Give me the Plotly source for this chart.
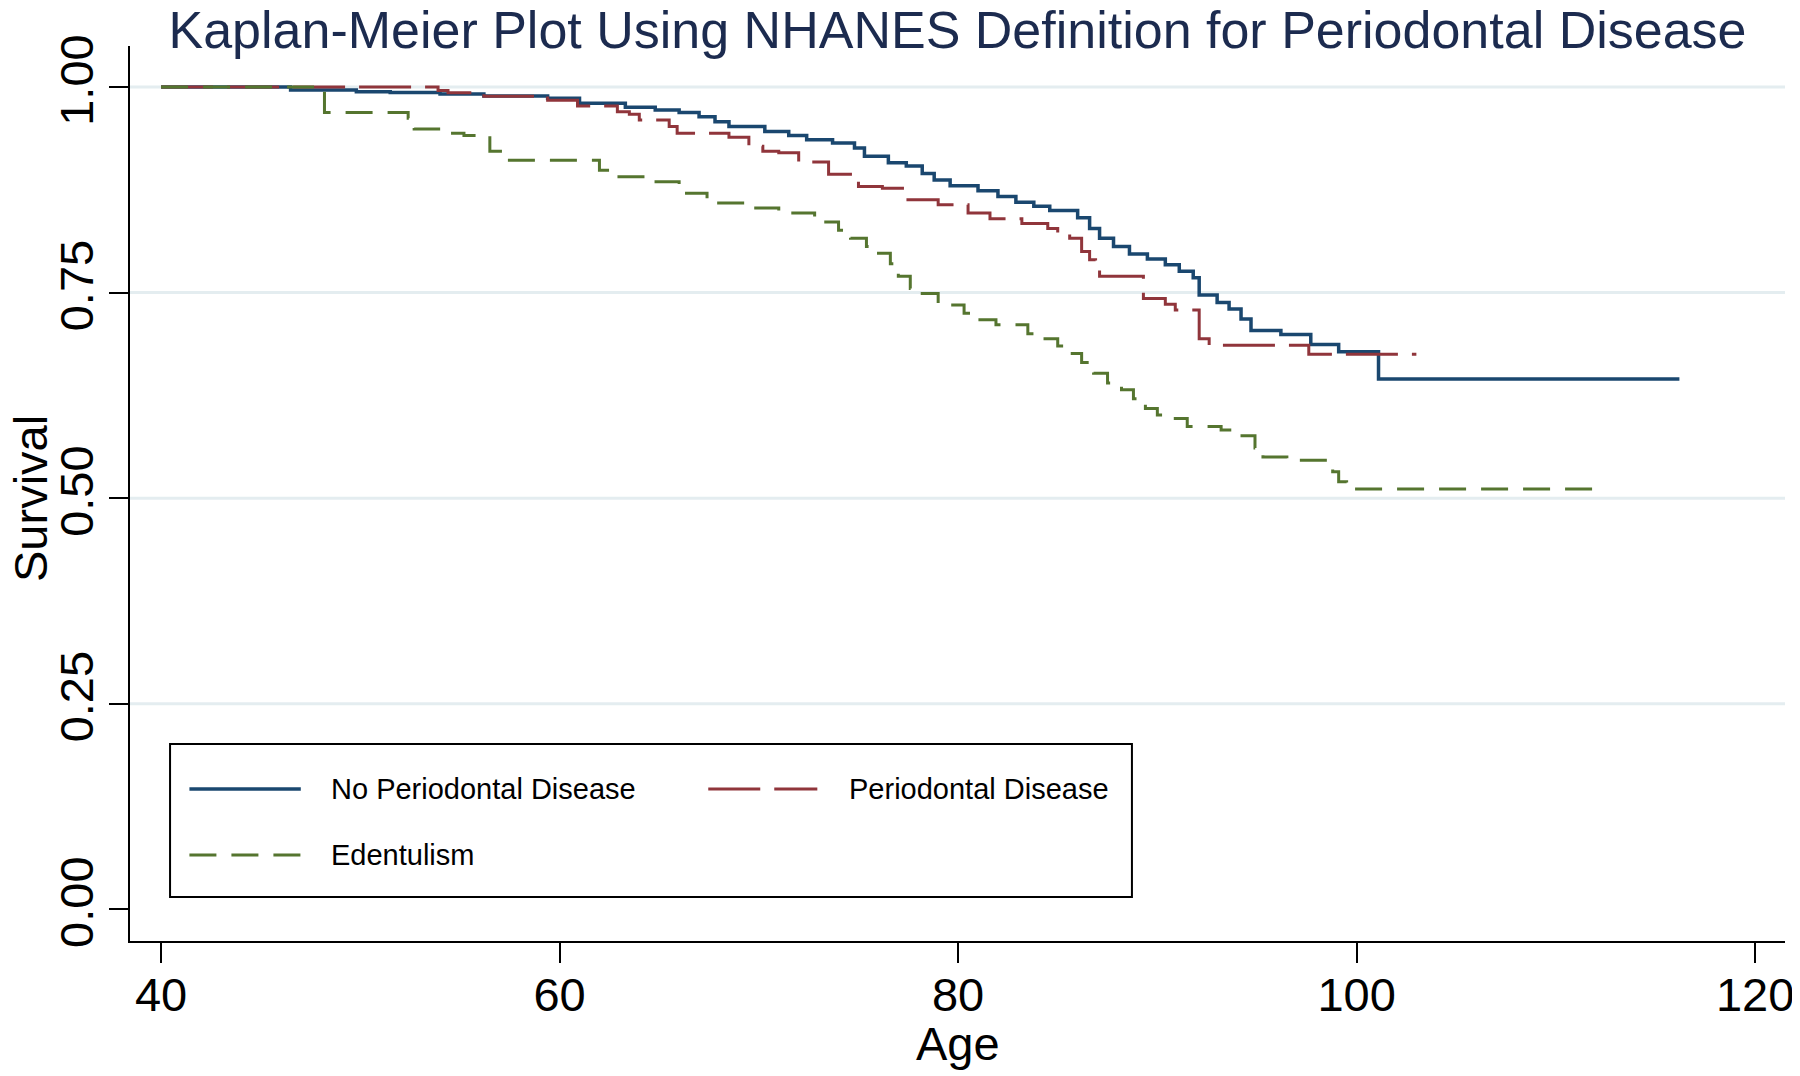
import plotly.graph_objects as go

# ---------------- data ----------------
age_no_pd = [40, 46.5, 49.8, 51.5, 54.0, 56.2, 59.4, 61.0, 63.3, 64.8, 66.0, 67.0,
             67.8, 68.5, 70.3, 71.5, 72.4, 73.7, 74.8, 75.3, 76.5, 77.4, 78.2, 78.8,
             79.6, 81.0, 82.0, 82.9, 83.8, 84.6, 86.0, 86.6, 87.1, 87.8, 88.6, 89.5,
             90.4, 91.1, 91.8, 92.1, 93.0, 93.6, 94.2, 94.7, 96.2, 97.7, 99.1, 101.1,
             116.2]
surv_no_pd = [1.0, 0.9966, 0.9945, 0.9933, 0.9917, 0.9893, 0.9864, 0.9804, 0.9755, 0.972,
              0.969, 0.964, 0.958, 0.952, 0.946, 0.941, 0.936, 0.932, 0.926, 0.916,
              0.908, 0.904, 0.895, 0.887, 0.880, 0.874, 0.867, 0.860, 0.855, 0.850,
              0.841, 0.828, 0.816, 0.806, 0.797, 0.791, 0.784, 0.776, 0.768, 0.747,
              0.738, 0.730, 0.718, 0.704, 0.699, 0.687, 0.678, 0.645, 0.645]

age_pd = [40, 53.9, 54.4, 56.2, 59.4, 60.9, 62.9, 63.5, 64.0, 65.5, 65.9, 68.5,
          69.5, 70.2, 71.0, 72.0, 73.5, 75.0, 76.2, 77.3, 79.0, 80.5, 81.6, 83.2,
          84.5, 85.0, 85.6, 86.2, 86.6, 86.9, 87.1, 89.3, 90.4, 90.9, 92.1, 92.6,
          97.6, 103.0]
surv_pd = [1.0, 0.996, 0.993, 0.989, 0.984, 0.977, 0.970, 0.967, 0.960, 0.952,
           0.944, 0.939, 0.928, 0.922, 0.920, 0.909, 0.894, 0.879, 0.877, 0.863,
           0.857, 0.847, 0.840, 0.834, 0.828, 0.822, 0.816, 0.800, 0.790, 0.778,
           0.770, 0.743, 0.736, 0.729, 0.694, 0.686, 0.675, 0.675]

age_edent = [40, 48.2, 52.4, 52.7, 54.5, 55.2, 56.5, 57.3, 62.0, 62.5, 64.3, 66.0,
             67.4, 69.4, 71.0, 72.8, 74.0, 74.6, 75.4, 75.9, 76.6, 77.0, 77.6, 78.1,
             79.0, 80.3, 80.7, 81.9, 83.5, 84.0, 85.0, 85.5, 86.2, 86.8, 87.5, 88.2,
             88.8, 89.4, 90.0, 90.9, 91.5, 93.2, 93.9, 94.9, 95.3, 96.5, 98.8, 99.1,
             99.5, 112.0]
surv_edent = [1.0, 0.969, 0.962, 0.949, 0.944, 0.941, 0.922, 0.911, 0.899, 0.891,
              0.885, 0.871, 0.859, 0.853, 0.847, 0.836, 0.826, 0.816, 0.806, 0.798,
              0.785, 0.770, 0.755, 0.749, 0.735, 0.725, 0.717, 0.711, 0.700, 0.694,
              0.685, 0.676, 0.665, 0.652, 0.640, 0.632, 0.621, 0.609, 0.601, 0.597,
              0.587, 0.583, 0.576, 0.561, 0.550, 0.546, 0.532, 0.520, 0.511, 0.511]

series_names = ["No Periodontal Disease", "Periodontal Disease", "Edentulism"]
series_colors = ["#1a476f", "#90353b", "#55752f"]
series_dashes = ["solid", "52px,14px", "27px,15px"]
series_widths = [3.5, 3, 3]

x_ticks = [40, 60, 80, 100, 120]
y_ticks = [0.0, 0.25, 0.5, 0.75, 1.0]
y_grid = [0.25, 0.5, 0.75, 1.0]

title_text = "Kaplan-Meier Plot Using NHANES Definition for Periodontal Disease"
x_title = "Age"
y_title = "Survival"

FONT = "Arial, Liberation Sans, sans-serif"

# The page body has an 8px default margin, so the figure is sized/offset for it.
FIG_W, FIG_H = 1792, 1068

# ---------------- figure ----------------
fig = go.Figure()
series = [(age_no_pd, surv_no_pd), (age_pd, surv_pd), (age_edent, surv_edent)]
for (xs, ys), name, col, dash, w in zip(series, series_names, series_colors,
                                         series_dashes, series_widths):
    fig.add_trace(go.Scatter(
        x=xs, y=ys, mode="lines", name=name, line_shape="hv",
        line=dict(color=col, width=w, dash=dash), showlegend=False))

# grid lines (none at the axis minimum, as in the reference)
for g in y_grid:
    fig.add_shape(type="line", xref="paper", yref="y", x0=0, x1=1, y0=g, y1=g,
                  line=dict(color="#e4edf0", width=3), layer="below")

# ---------------- legend (drawn in paper coordinates) ----------------
fig.add_shape(type="rect", xref="paper", yref="paper",
              x0=0.0242, x1=0.6054, y0=0.0492, y1=0.2201,
              line=dict(color="black", width=2), fillcolor="white", layer="above")
legend_slots = [  # (key x0, key x1, text x, row y)
    (0.0359, 0.1032, 0.1205, 0.1698),
    (0.3494, 0.4153, 0.4332, 0.1698),
    (0.0359, 0.1032, 0.1205, 0.0961),
]
for (kx0, kx1, tx, ry), name, col, dash, w in zip(legend_slots, series_names,
                                                    series_colors, series_dashes,
                                                    series_widths):
    fig.add_shape(type="line", xref="paper", yref="paper", x0=kx0, x1=kx1, y0=ry, y1=ry,
                  line=dict(color=col, width=w, dash=dash), layer="above")
    fig.add_annotation(xref="paper", yref="paper", x=tx, y=ry, text=name,
                       showarrow=False, xanchor="left", yanchor="middle",
                       font=dict(family=FONT, size=29, color="black"))

# ---------------- axis titles ----------------
fig.add_annotation(xref="paper", yref="paper", x=0.5, y=-0.1150, text=x_title,
                   showarrow=False, xanchor="center", yanchor="middle",
                   font=dict(family=FONT, size=47, color="black"))
fig.add_annotation(xref="paper", yref="paper", x=-0.0598, y=0.4939, text=y_title,
                   showarrow=False, xanchor="center", yanchor="middle", textangle=-90,
                   font=dict(family=FONT, size=47, color="black"))

fig.update_layout(
    width=FIG_W, height=FIG_H,
    margin=dict(l=122, r=15, t=38, b=135, autoexpand=False),
    paper_bgcolor="white", plot_bgcolor="white",
    title=dict(text=title_text, x=0.5, xref="paper", xanchor="center",
               y=1 - 22 / FIG_H, yref="container", yanchor="middle",
               font=dict(family=FONT, size=52, color="#1c2b4f"), automargin=False),
    font=dict(family=FONT, color="black"),
)
fig.update_xaxes(
    range=[38.44, 121.5], tickvals=x_ticks, ticktext=[str(t) for t in x_ticks],
    ticks="outside", ticklen=20, tickwidth=2, tickcolor="black", ticklabelstandoff=-8,
    ticklabeloverflow="allow",
    showline=True, linewidth=2, linecolor="black", showgrid=False, zeroline=False,
    automargin=False,
    tickfont=dict(family=FONT, size=47, color="black"),
)
fig.update_yaxes(
    range=[-0.0387, 1.050], tickvals=y_ticks, tickformat=".2f",
    ticks="outside", ticklen=19, tickwidth=2, tickcolor="black", tickangle=-90,
    ticklabelstandoff=-3, ticklabeloverflow="allow",
    showline=True, linewidth=2, linecolor="black", showgrid=False, zeroline=False,
    automargin=False,
    tickfont=dict(family=FONT, size=47, color="black"),
)

fig.write_html("out.html")
